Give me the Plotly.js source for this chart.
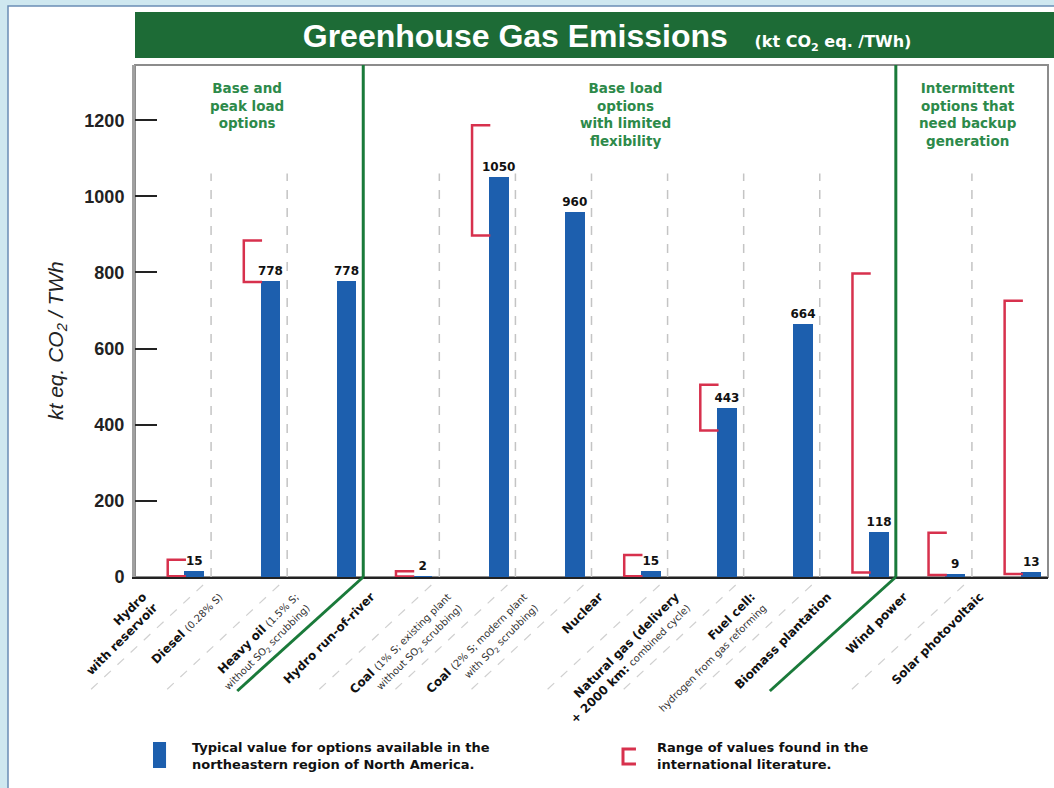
<!DOCTYPE html>
<html>
<head>
<meta charset="utf-8">
<script src="https://cdn.plot.ly/plotly-3.0.1.min.js"></script>
<style>
html,body{margin:0;padding:0;background:#cfe8f0;}
#chart{width:1054px;height:788px;}
</style>
</head>
<body>
<div id="chart"></div>
<script>
// ---------- data ----------
const categories = [
  "Hydro with reservoir", "Diesel", "Heavy oil", "Hydro run-of-river",
  "Coal (1% S)", "Coal (2% S)", "Nuclear", "Natural gas",
  "Fuel cell", "Biomass plantation", "Wind power", "Solar photovoltaic"
];
const S = "<span style='font-size:10px;color:#333'>";
const tickLabels = [
  "<b>Hydro</b><br><b>with reservoir</b>",
  "<b>Diesel</b> " + S + "(0.28% S)</span>",
  "<b>Heavy oil</b> " + S + "(1.5% S;</span><br>" + S + "without SO<sub>2</sub> scrubbing)</span>",
  "<b>Hydro run-of-river</b>",
  "<b>Coal</b> " + S + "(1% S; existing plant</span><br>" + S + "without SO<sub>2</sub> scrubbing)</span>",
  "<b>Coal</b> " + S + "(2% S; modern plant</span><br>" + S + "with SO<sub>2</sub> scrubbing)</span>",
  "<b>Nuclear</b>",
  "<b>Natural gas (delivery</b><br><b>+ 2000 km:</b> " + S + "combined cycle)</span>",
  "<b>Fuel cell:</b><br>" + S + "hydrogen from gas reforming</span>",
  "<b>Biomass plantation</b>",
  "<b>Wind power</b>",
  "<b>Solar photovoltaic</b>"
];
const typicalValue = [15, 778, 778, 2, 1050, 960, 15, 443, 664, 118, 9, 13];
const rangeLow  = [2, 775, null, 1, 897, null, 2, 385, null, 12, 5, 8];
const rangeHigh = [45, 884, null, 15, 1187, null, 58, 505, null, 797, 116, 726];
const groupNames = [
  "Base and<br>peak load<br>options",
  "Base load<br>options<br>with limited<br>flexibility",
  "Intermittent<br>options that<br>need backup<br>generation"
];
const groupBreaks = [2.5, 9.5];   // boundaries between the three groups
const yTicks = [0, 200, 400, 600, 800, 1000, 1200];

// ---------- styling ----------
const FONT = "Liberation Sans, Arial, Helvetica, sans-serif";
const WIDE = "DejaVu Sans, Verdana, sans-serif";
const BLUE = "#1d5fae";
const RED = "#d7314d";
const GREEN = "#1d6b36";
const GREEN_TXT = "#2d8a4a";
const idx = categories.map((_, i) => i);

// bracket path built from the range arrays (left of each bar)
const bx = [], by = [];
idx.forEach(i => {
  if (rangeLow[i] == null) return;
  const l = i - 0.07, r = i + 0.17;
  bx.push(r, l, l, r, null);
  by.push(rangeHigh[i], rangeHigh[i], rangeLow[i], rangeLow[i], null);
});

const traces = [
  {
    type: "bar", x: idx, y: typicalValue,
    width: 0.26, offset: 0.15,
    marker: {color: BLUE},
    text: typicalValue.map(String), textposition: "outside",
    textfont: {family: WIDE, size: 12, color: "#111", weight: "bold"},
    constraintext: "none", cliponaxis: false,
    hoverinfo: "x+y", showlegend: false
  },
  {
    type: "scatter", mode: "lines", x: bx, y: by,
    line: {color: RED, width: 2.5}, connectgaps: false,
    hoverinfo: "skip", showlegend: false
  }
];

const shapes = [];
// white panel
shapes.push({type: "rect", xref: "paper", yref: "paper",
  x0: -0.1391, x1: 1.02, y0: 1.1152, y1: -0.44,
  fillcolor: "#ffffff", line: {color: "#6b8db5", width: 1.5}, layer: "below"});
// plot border
shapes.push({type: "rect", xref: "paper", yref: "paper", x0: 0, x1: 1, y0: 0, y1: 1,
  fillcolor: "rgba(0,0,0,0)", line: {color: "#8c8c8c", width: 2}, layer: "below"});
// title bar
shapes.push({type: "rect", xref: "paper", yref: "paper", x0: 0, x1: 1.02, y0: 1.0137, y1: 1.1035,
  fillcolor: GREEN, line: {width: 0}, layer: "below"});

// separators
for (let i = 0; i < categories.length - 1; i++) {
  const s = i + 0.5;
  const isGroup = groupBreaks.includes(s);
  if (isGroup) {
    shapes.push({type: "line", xref: "x", yref: "paper", x0: s, x1: s, y0: 0, y1: 1,
      line: {color: "#1a7a3a", width: 3}});
    shapes.push({type: "line", xref: "paper", yref: "paper",
      xsizemode: "pixel", xanchor: (s + 0.5) / categories.length, x0: 0, x1: -126,
      ysizemode: "pixel", yanchor: 0, y0: 0, y1: -114,
      line: {color: "#1a7a3a", width: 3}});
  } else {
    shapes.push({type: "line", xref: "x", yref: "y", x0: s, x1: s, y0: 0, y1: 1060,
      line: {color: "#c4c4c4", width: 1.5, dash: "dash"}, layer: "below"});
    shapes.push({type: "line", xref: "paper", yref: "paper",
      xsizemode: "pixel", xanchor: (s + 0.5) / categories.length, x0: -8, x1: -124,
      ysizemode: "pixel", yanchor: 0, y0: -8, y1: -116,
      line: {color: "#d0d0d0", width: 1.2, dash: "dash"}, layer: "below"});
  }
}
// legend marks
shapes.push({type: "rect", xref: "paper", yref: "paper",
  x0: 0.0197, x1: 0.034, y0: -0.3223, y1: -0.373, fillcolor: BLUE, line: {width: 0}});
shapes.push({type: "path", xref: "paper", yref: "paper",
  path: "M 0.5487 -0.3359 L 0.5345 -0.3359 L 0.5345 -0.3652 L 0.5487 -0.3652",
  line: {color: RED, width: 3}});

const groupFont = {family: WIDE, size: 13.5, color: GREEN_TXT, weight: "bold"};
const legendFont = {family: WIDE, size: 13, color: "#111", weight: "bold"};
const annotations = [
  {xref: "paper", yref: "paper", x: 0.123, y: 0.975, xanchor: "center", yanchor: "top",
   text: groupNames[0], showarrow: false, align: "center", font: groupFont},
  {xref: "paper", yref: "paper", x: 0.537, y: 0.975, xanchor: "center", yanchor: "top",
   text: groupNames[1], showarrow: false, align: "center", font: groupFont},
  {xref: "paper", yref: "paper", x: 0.912, y: 0.975, xanchor: "center", yanchor: "top",
   text: groupNames[2], showarrow: false, align: "center", font: groupFont},
  {xref: "paper", yref: "paper", x: 0.0602, y: -0.3496, xanchor: "left", yanchor: "middle",
   text: "Typical value for options available in the<br>northeastern region of North America.",
   showarrow: false, align: "left", font: legendFont},
  {xref: "paper", yref: "paper", x: 0.5695, y: -0.3496, xanchor: "left", yanchor: "middle",
   text: "Range of values found in the<br>international literature.",
   showarrow: false, align: "left", font: legendFont},
  // y-axis title
  {xref: "paper", yref: "paper", x: -0.0854, y: 0.461, xanchor: "center", yanchor: "middle",
   textangle: -90, showarrow: false,
   text: "<i>kt eq. CO<sub>2</sub> / TWh</i>",
   font: {family: FONT, size: 21, color: "#222"}}
];

const layout = {
  width: 1054, height: 788,
  margin: {l: 135, r: 6, t: 65, b: 211},
  paper_bgcolor: "#cfe8f0",
  plot_bgcolor: "rgba(0,0,0,0)",
  font: {family: FONT, color: "#111"},
  title: {
    text: "<b>Greenhouse Gas Emissions</b>&nbsp;&nbsp;&nbsp;<span style='font-size:16px;font-family:DejaVu Sans'><b>(kt CO<sub>2</sub> eq. /TWh)</b></span>",
    font: {family: FONT, size: 32, color: "#ffffff"},
    xref: "container", yref: "container",
    x: 0.576, xanchor: "center", y: 0.954, yanchor: "middle"
  },
  xaxis: {
    range: [-0.5, categories.length - 0.5],
    tickvals: idx, ticktext: tickLabels, tickangle: -45,
    tickfont: {family: WIDE, size: 12, color: "#111"},
    ticklabelshift: -30, ticklabelstandoff: 6,
    showgrid: false, zeroline: false, ticks: "",
    showline: true, linecolor: "#222", linewidth: 2,
    fixedrange: true
  },
  yaxis: {
    range: [0, 1345],
    tickvals: yTicks, ticktext: yTicks.map(String),
    ticks: "inside", ticklen: 22, tickwidth: 2, tickcolor: "#222",
    tickfont: {family: FONT, size: 18, color: "#222", weight: "bold"},
    ticklabelstandoff: 4,
    showgrid: false, zeroline: false,
    showline: true, linecolor: "#a0a0a0", linewidth: 3,
    fixedrange: true
  },
  shapes: shapes,
  annotations: annotations,
  showlegend: false,
  bargap: 0
};

Plotly.newPlot("chart", traces, layout, {displayModeBar: false, staticPlot: true});
</script>
</body>
</html>
